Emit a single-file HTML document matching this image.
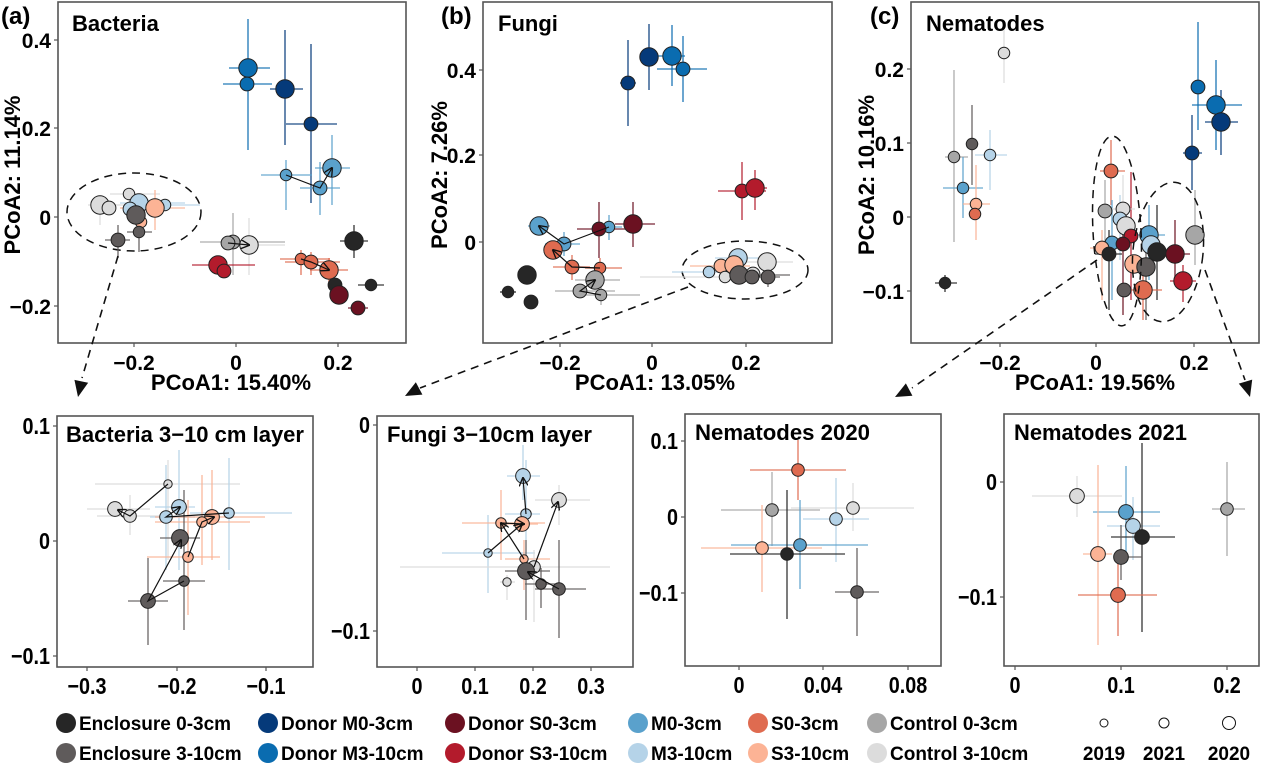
<!DOCTYPE html>
<html><head><meta charset="utf-8"><style>
html,body{margin:0;padding:0;background:#fff;}
svg{display:block;font-family:"Liberation Sans",sans-serif;font-weight:bold;}
</style></head><body>
<svg id="s" width="1262" height="766" viewBox="0 0 1262 766" xmlns="http://www.w3.org/2000/svg">
<defs>
<marker id="ah" viewBox="0 0 10 10" refX="9" refY="5" markerWidth="9" markerHeight="9" orient="auto" markerUnits="userSpaceOnUse"><path d="M0,0 L10,5 L0,10" fill="none" stroke="#111" stroke-width="1.5"/></marker>
</defs>
</svg>
<script>
const S=document.getElementById('s');const NS='http://www.w3.org/2000/svg';
function el(t,a,txt){const e=document.createElementNS(NS,t);for(const k in a)e.setAttribute(k,a[k]);if(txt!==undefined)e.textContent=txt;S.appendChild(e);return e;}
const C={E0:'#262626',E3:'#5f5b5b',DM0:'#053a7a',DM3:'#0a6cb0',DS0:'#6b1121',DS3:'#b31b2c',M0:'#5aa1cc',M3:'#b5d3e8',S0:'#df6b50',S3:'#fcb395',C0:'#a6a6a6',C3:'#dcdcdc'};
let RS=1.15, SX=1, FS=21;
function tx(x,y,fs,anchor,t){return el('text',{x:0,y:0,'font-size':fs,'text-anchor':anchor,transform:`translate(${x},${y}) scale(${SX},1)`},t);}
function box(x1,y1,x2,y2){el('rect',{x:x1,y:y1,width:x2-x1,height:y2-y1,fill:'none',stroke:'#555','stroke-width':1.6});}
function xt(xs,labs,y){xs.forEach((x,i)=>{el('line',{x1:x,y1:y,x2:x,y2:y+4,stroke:'#555','stroke-width':1.2});tx(x,y+27,FS,'middle',labs[i]);});}
function yt(ys,labs,x){ys.forEach((y,i)=>{el('line',{x1:x,y1:y,x2:x-4,y2:y,stroke:'#555','stroke-width':1.2});tx(x-7,y+8,FS,'end',labs[i]);});}
function eb(c,x1,x2,y,vx,v1,v2){ if(x1!=null)el('line',{x1:x1,y1:y,x2:x2,y2:y,stroke:C[c],'stroke-width':1.6,opacity:0.75}); if(v1!=null)el('line',{x1:vx,y1:v1,x2:vx,y2:v2,stroke:C[c],'stroke-width':1.6,opacity:0.75});}
function pt(p){el('circle',{cx:p[0],cy:p[1],r:p[2]*RS,fill:C[p[3]],stroke:'#222','stroke-width':1});}
function pts(list){list.forEach(p=>{if(p[4]!==undefined){eb(p[3],p[4],p[5],p[1],p[0],p[6],p[7]);}});list.forEach(pt);}
function path(ps){el('polyline',{points:ps.map(p=>p.join(',')).join(' '),fill:'none',stroke:'#111','stroke-width':1.2,'marker-end':'url(#ah)'});}
function dash(x1,y1,x2,y2,tx_,ty){el('line',{x1:x1,y1:y1,x2:x2,y2:y2,stroke:'#111','stroke-width':1.6,'stroke-dasharray':'8,6'});
 const a=Math.atan2(ty-y2,tx_-x2),L=16,W=7;const bx=tx_-L*Math.cos(a),by=ty-L*Math.sin(a);
 el('polygon',{points:`${tx_},${ty} ${bx-W*Math.sin(a)},${by+W*Math.cos(a)} ${bx+W*Math.sin(a)},${by-W*Math.cos(a)}`,fill:'#111'});}

// ===== Panel a =====
box(58,2,406,343);
xt([134,236,338],['\u22120.2','0','0.2'],343);
yt([40,128,217,306],['0.4','0.2','0','\u22120.2'],58);
el('text',{x:1,y:24,'font-size':24},'(a)');
el('text',{x:72,y:31,'font-size':22},'Bacteria');
el('text',{x:231,y:390,'font-size':22,'text-anchor':'middle'},'PCoA1: 15.40%');
el('text',{x:0,y:0,'font-size':22,'text-anchor':'middle',transform:'translate(20,175) rotate(-90)'},'PCoA2: 11.14%');
el('ellipse',{cx:134,cy:212,rx:67,ry:39,fill:'none',stroke:'#111','stroke-width':1.5,'stroke-dasharray':'8,6'});
pts([
[248,68,8,'DM3',229,270,19,150],[247,84,6,'DM3',223,272,null,null],
[285,89,8,'DM0',270,303,30,145],[311,124,6,'DM0',286,337,44,203],
[286,175,5,'M0',261,312,160,210],[320,188,6,'M0',300,340,162,215],[332,168,8,'M0',315,350,135,205],
[100,205,8,'C3',88,170,195,225],[109,208,6,'C3'],[129,194,5,'C3',110,160,null,null],
[165,205,5,'M3',140,200,null,null],[139,203,8,'M3',120,185,null,null],[130,209,6,'M3'],
[155,208,8,'S3',120,185,190,230],[141,222,5,'S3'],
[136,215,8,'E3'],[118,240,6,'E3',105,130,225,258],[139,232,5,'E3',127,152,218,252],
[233,242,6,'C0',200,285,213,275],[228,243,6,'C0',null,null,null,null],[249,245,8,'C3',235,285,218,275],
[218,265,8,'DS3',192,255,null,null],[224,271,6,'DS3'],
[301,259,5,'S0',280,330,250,275],[311,262,6,'S0',285,340,252,275],[329,270,8,'S0',310,348,258,282],
[354,241,8,'E0',340,368,225,258],[335,285,6,'E0'],[371,285,5,'E0',358,384,null,null],
[339,295,8,'DS0'],[358,308,6,'DS0',348,368,null,null]
]);
path([[286,175],[320,188],[332,168]]);path([[228,243],[249,245]]);path([[301,259],[311,262],[329,270]]);
dash(118,256,82,378,78,397);

// ===== Panel b =====
box(483,2,832,343);
xt([560,652,746],['\u22120.2','0','0.2'],343);
yt([70,155,242],['0.4','0.2','0'],483);
el('text',{x:441,y:24,'font-size':24},'(b)');
el('text',{x:498,y:31,'font-size':22},'Fungi');
el('text',{x:655,y:390,'font-size':22,'text-anchor':'middle'},'PCoA1: 13.05%');
el('text',{x:0,y:0,'font-size':22,'text-anchor':'middle',transform:'translate(447,175) rotate(-90)'},'PCoA2: 7.26%');
el('ellipse',{cx:745,cy:270,rx:63,ry:29,fill:'none',stroke:'#111','stroke-width':1.5,'stroke-dasharray':'8,6'});
pts([
[628,83,6,'DM0',620,636,40,126],[649,57,8,'DM0',null,null,24,90],[672,56,8,'DM3',655,685,25,86],[683,69,6,'DM3',657,707,36,102],
[742,191,6,'DS3',718,766,162,220],[755,188,8,'DS3',745,767,170,210],
[609,227,5,'M0',595,622,215,240],[564,244,6,'M0',545,580,232,256],[539,226,8,'M0',528,550,null,null],
[599,229,6,'DS0',577,625,202,258],[633,224,8,'DS0',615,655,202,247],
[600,268,5,'S0',585,622,258,280],[572,267,6,'S0',553,590,255,280],[553,250,8,'S0'],
[595,280,8,'C0',575,620,null,null],[580,291,6,'C0',555,615,null,null],[601,295,5,'C0',575,640,285,305],
[527,275,8,'E0'],[508,292,5,'E0',500,516,null,null],[531,302,6,'E0'],
[709,272,5,'M3',672,745,null,null],[738,258,8,'M3',715,760,null,null],[721,266,6,'S3',690,750,null,null],[734,265,8,'S3'],
[767,262,8,'C3',740,793,null,null],[725,277,5,'C3',640,770,null,null],[753,274,6,'C3'],
[739,275,8,'E3',720,790,null,null],[752,277,6,'E3'],[768,277,6,'E3',755,780,270,287]
]);
path([[609,227],[564,244],[539,226]]);path([[600,268],[572,267],[553,250]]);path([[601,295],[580,291],[595,280]]);
dash(688,287,420,388,405,396);

// ===== Panel c =====
box(911,2,1259,343);
xt([1000,1096,1194],['\u22120.2','0','0.2'],343);
yt([69,143,217,291],['0.2','0.1','0','\u22120.1'],911);
el('text',{x:870,y:24,'font-size':24},'(c)');
el('text',{x:926,y:31,'font-size':22},'Nematodes');
el('text',{x:1095,y:390,'font-size':22,'text-anchor':'middle'},'PCoA1: 19.56%');
el('text',{x:0,y:0,'font-size':22,'text-anchor':'middle',transform:'translate(874,175) rotate(-90)'},'PCoA2: 10.16%');
[['S0',1111,140,205],['C0',1105,180,245],['C3',1123,175,250],['M3',1120,195,260],['DS3',1131,172,300],['M0',1112,200,300],['S3',1102,230,300],['DS0',1123,215,315],['E0',1109,230,310],['M0',1149,205,280],['E3',1146,230,320],['S0',1143,260,320],['DS3',1183,265,302],['C0',1195,190,265],['E0',1157,205,300],['DS0',1175,220,285]].forEach(v=>eb(v[0],null,null,0,v[1],v[2],v[3]));
pts([
[1004,53,5,'C3',null,null,30,83],
[1198,87,6,'DM3',null,null,22,130],[1216,105,8,'DM3',1192,1242,60,150],[1221,122,8,'DM0',1205,1238,90,155],[1192,153,6,'DM0',1183,1202,115,190],
[954,157,5,'C0',945,968,70,242],[972,144,5,'E3',null,null,105,185],[990,155,5,'M3',975,1007,130,190],[963,188,5,'M0',943,983,157,218],
[976,204,5,'S3',963,990,165,240],[975,214,5,'S0'],[945,283,5,'E0',935,957,275,292],
[1111,171,6,'S0',1100,1125,null,null],[1105,211,6,'C0'],[1123,209,6,'C3',1110,1135,null,null],[1120,219,6,'M3'],[1126,226,8,'C3'],
[1131,236,6,'DS3'],[1112,243,6,'M0'],[1102,248,6,'S3',1090,1115,null,null],[1123,244,6,'DS0'],[1109,254,6,'E0',1095,1122,null,null],
[1149,235,8,'M0',1135,1165,null,null],[1151,245,8,'M3'],[1157,252,8,'E0'],[1175,254,8,'DS0',1160,1190,null,null],
[1134,264,8,'S3'],[1146,267,8,'E3'],[1124,290,6,'E3'],[1143,290,8,'S0',1130,1162,null,null],[1183,281,8,'DS3',1170,1196,null,null],[1195,235,8,'C0']
]);
el('ellipse',{cx:1117,cy:231,rx:24,ry:95,fill:'none',stroke:'#111','stroke-width':1.5,'stroke-dasharray':'8,6',transform:'rotate(-3 1117 231)'});
el('ellipse',{cx:1168,cy:252,rx:35,ry:70,fill:'none',stroke:'#111','stroke-width':1.5,'stroke-dasharray':'8,6',transform:'rotate(6 1168 252)'});
dash(1097,260,912,388,895,397);
dash(1205,270,1245,380,1250,397);

// ===== Bottom panels: condensed text =====
RS=1.05; SX=0.86; FS=23;
box(57,416,313,667);
xt([87,177,266],['\u22120.3','\u22120.2','\u22120.1'],667);
yt([426,541,656],['0.1','0','\u22120.1'],57);
el('text',{x:66,y:442,'font-size':22,textLength:238,lengthAdjust:'spacingAndGlyphs'},'Bacteria 3\u221210 cm layer');
pts([
[168,484,4,'C3',95,240,460,560],[115,509,7,'C3',87,150,null,null],[130,516,6,'C3',97,170,495,535],
[179,507,7,'M3',155,195,450,570],[166,517,6,'M3',150,195,465,570],[229,513,5,'M3',190,292,458,570],
[212,517,7,'S3',155,265,470,560],[202,522,5,'S3',155,250,475,565],[188,557,5,'S3',147,220,500,615],
[180,538,8,'E3',160,200,null,null],[184,581,5,'E3',163,205,490,630],[148,601,7,'E3',128,168,558,645]
]);
path([[168,484],[130,516],[118,510]]);path([[229,513],[166,517],[180,507]]);path([[188,557],[202,522],[214,517]]);path([[184,581],[148,601],[181,540]]);

box(377,416,633,667);
xt([417,475,533,591],['0','0.1','0.2','0.3'],667);
yt([425,631],['0','\u22120.1'],377);
el('text',{x:387,y:442,'font-size':22,textLength:205,lengthAdjust:'spacingAndGlyphs'},'Fungi 3\u221210cm layer');
pts([
[523,476,7,'M3',507,540,445,500],[526,514,5,'M3',505,540,460,540],[488,553,4,'M3',442,535,515,593],
[501,523,5,'S3',462,545,490,560],[522,524,7,'S3',500,538,null,null],[524,559,4,'S3',505,550,540,590],
[559,500,7,'C3',535,590,485,525],[534,567,6,'C3',400,610,550,622],[507,582,4,'C3',500,515,575,600],
[526,571,8,'E3',505,550,540,620],[541,584,5,'E3',525,555,568,608],[559,589,6,'E3',535,586,540,638]
]);
path([[526,514],[523,478]]);path([[488,553],[522,524]]);path([[501,523],[524,524]]);
path([[524,559],[501,523]]);path([[534,567],[558,502]]);path([[559,589],[528,572]]);

box(685,414,941,666);
xt([739,823,908],['0','0.04','0.08'],666);
yt([441,517,593],['0.1','0','\u22120.1'],685);
el('text',{x:695,y:440,'font-size':22,textLength:175,lengthAdjust:'spacingAndGlyphs'},'Nematodes 2020');
pts([
[798,470,6,'S0',750,846,440,500],[772,510,6,'C0',721,820,472,546],[853,508,6,'C3',791,914,483,531],
[836,519,6,'M3',803,869,478,562],[762,548,6,'S3',701,822,505,592],[800,545,6,'M0',731,868,500,589],
[787,554,6,'E0',730,845,490,619],[857,592,6,'E3',835,879,548,636]
]);

box(1004,414,1259,666);
xt([1015,1121,1227],['0','0.1','0.2'],666);
yt([482,597],['0','\u22120.1'],1004);
el('text',{x:1014,y:440,'font-size':22,textLength:173,lengthAdjust:'spacingAndGlyphs'},'Nematodes 2021');
pts([
[1077,496,7,'C3',1032,1122,476,517],[1227,509,6,'C0',1212,1245,462,556],[1126,512,7,'M0',1093,1160,466,563],
[1133,526,7,'M3',1107,1160,497,560],[1142,537,7,'E0',1111,1175,443,632],[1098,554,7,'S3',1083,1112,465,645],
[1121,557,7,'E3',1121,1142,525,580],[1118,595,7,'S0',1078,1157,558,636]
]);

// ===== Legend =====
const L=[[66,'E0','Enclosure 0-3cm'],[268,'DM0','Donor M0-3cm'],[455,'DS0','Donor S0-3cm'],[638,'M0','M0-3cm'],[758,'S0','S0-3cm'],[877,'C0','Control 0-3cm']];
const L2=[[66,'E3','Enclosure 3-10cm'],[268,'DM3','Donor M3-10cm'],[455,'DS3','Donor S3-10cm'],[638,'M3','M3-10cm'],[758,'S3','S3-10cm'],[877,'C3','Control 3-10cm']];
L.forEach(l=>{el('circle',{cx:l[0],cy:723,r:10,fill:C[l[1]]});el('text',{x:l[0]+13,y:730,'font-size':19},l[2]);});
L2.forEach(l=>{el('circle',{cx:l[0],cy:753,r:10,fill:C[l[1]]});el('text',{x:l[0]+13,y:760,'font-size':19},l[2]);});
[[1104,4,'2019'],[1164,5,'2021'],[1229,6.5,'2020']].forEach(s=>{el('circle',{cx:s[0],cy:723,r:s[1],fill:'none',stroke:'#111','stroke-width':1});el('text',{x:s[0],y:760,'font-size':19,'text-anchor':'middle'},s[2]);});
</script>
</body></html>
